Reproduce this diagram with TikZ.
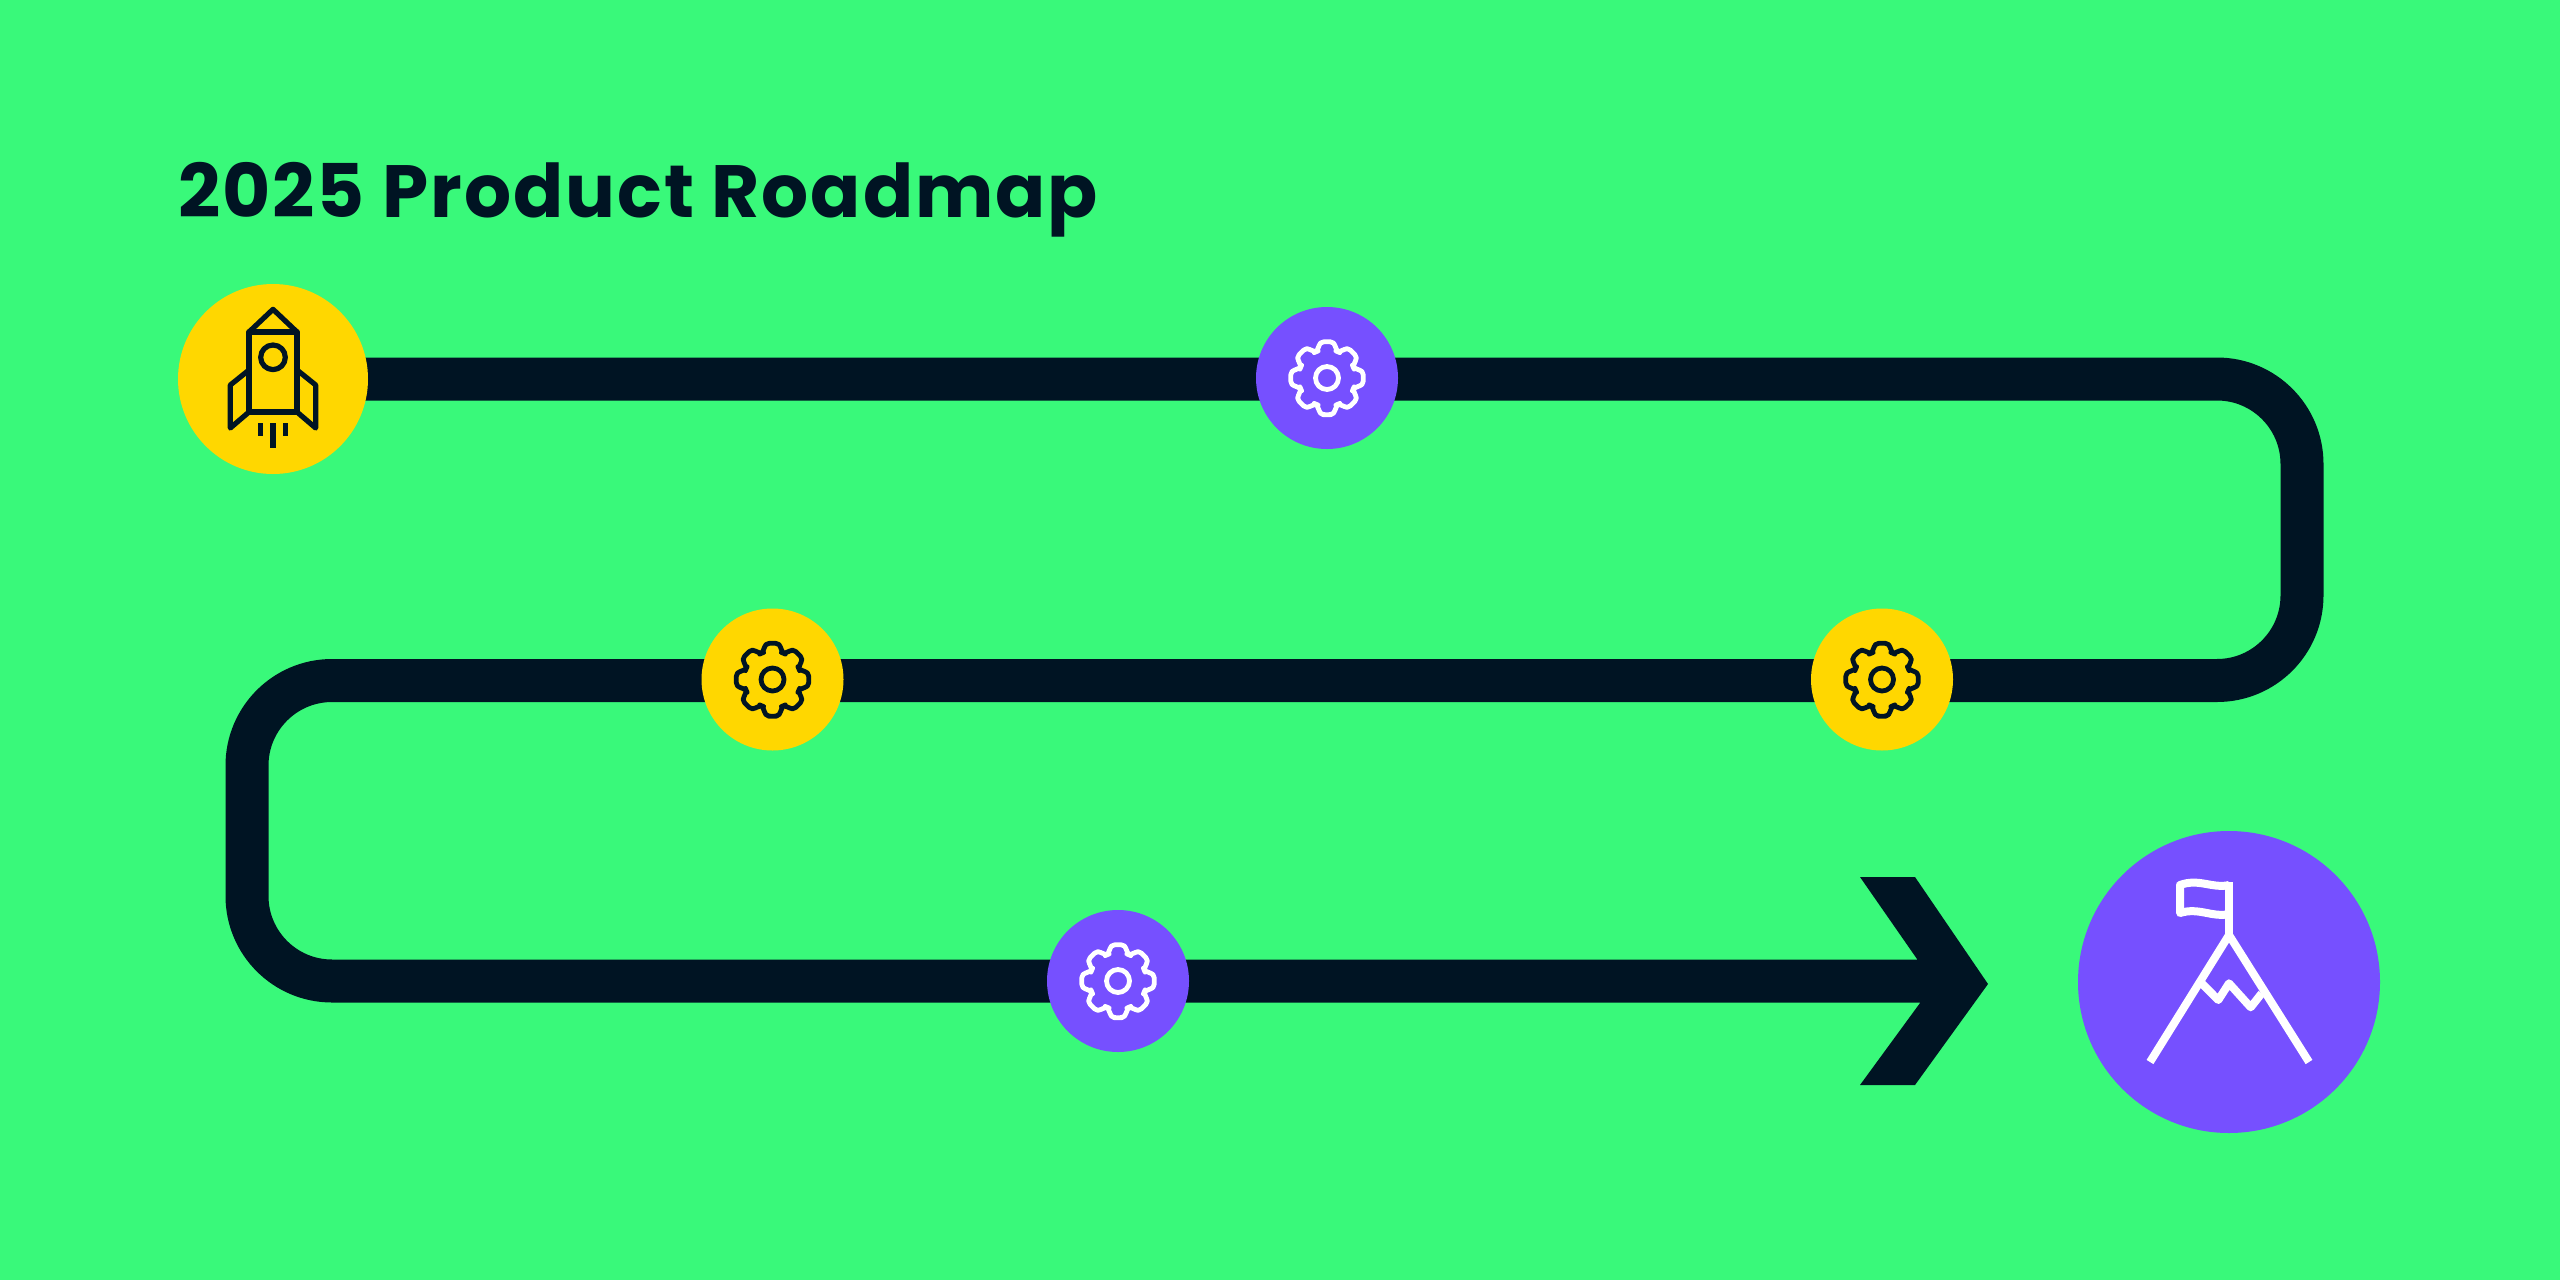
\documentclass[tikz,border=0pt]{standalone}
\usepackage{fontspec}
\setmainfont{Poppins}[LetterSpace=2.6]
\definecolor{bggreen}{HTML}{39F97A}
\definecolor{navy}{HTML}{001423}
\definecolor{sun}{HTML}{FFD700}
\definecolor{violet}{HTML}{7650FF}
\tikzset{
  road/.style={draw=navy,line width=21.5pt,rounded corners=42.5pt,line join=round},
  badge/.style={circle,inner sep=0pt,outer sep=0pt,minimum size=#1},
  gear/.pic={
    \tikzset{gearline/.style={draw=#1,line width=2.4pt,line join=round}}
    \draw[gearline,rounded corners=2.2pt] (90:37)
      \foreach \a in {90,135,...,405}{
        -- (\a+12:37) -- (\a+18:28.5) -- (\a+27:28.5) -- (\a+33:37)
      } -- cycle;
    \draw[gearline] (0,0) circle (11.5);
  },
  gear/.default=white
}
\begin{document}
\begin{tikzpicture}[x=0.5pt,y=-0.5pt]
\fill[bggreen] (0,0) rectangle (2560,1280);
\useasboundingbox (0,0) rectangle (2560,1280);

\node[anchor=base west,inner sep=0pt,text=navy,font=\fontsize{37}{37}\selectfont\bfseries] (title) at (178,217) {2025 Product Roadmap};

\coordinate (c1) at (2302,379);
\coordinate (c2) at (2302,680.5);
\coordinate (c3) at (247,680.5);
\coordinate (c4) at (247,981);
\coordinate (shaftend) at (1930,981);
\coordinate (start) at (273,379);
\draw[road] (start) -- (c1) -- (c2) -- (c3) -- (c4) -- (shaftend);

\fill[navy] (1860,877) -- (1915,877) -- (1988,984) -- (1915,1085) -- (1860,1085) -- (1920,1003) -- (1917,959) -- cycle;

\node[badge=95pt,fill=sun] (rocket) at (273,379) {};
\node[badge=71pt,fill=violet] (m1) at (1327,378) {};
\node[badge=71pt,fill=sun] (m2) at (772.5,679.5) {};
\node[badge=71pt,fill=sun] (m3) at (1882,679.5) {};
\node[badge=71pt,fill=violet] (m4) at (1118,981) {};
\node[badge=151pt,fill=violet] (goal) at (2229,982) {};

\pic at (m1) {gear=white};
\pic at (m2) {gear=navy};
\pic at (m3) {gear=navy};
\pic at (m4) {gear=white};

\begin{scope}[shift={(rocket)},draw=navy,line width=2.6pt,line join=round]
  \draw (-24,-47) -- (0,-69.7) -- (24,-47);
  \draw (-24,-47) rectangle (24,33);
  \draw (0,-21.7) circle (12.3);
  \draw (-24,-9) -- (-42.7,6) -- (-42.7,49) -- (-24,33);
  \draw (24,-9) -- (42.7,6) -- (42.7,49) -- (24,33);
  \draw (-12.3,44.3) -- (-12.3,57);
  \draw (0,44.3) -- (0,69.3);
  \draw (12.3,44.3) -- (12.3,57);
\end{scope}

\begin{scope}[shift={(goal)},draw=white,line width=4pt,line join=round]
  \draw (0,-100) -- (0,-47);
  \draw (-79,80) -- (0,-47) -- (80,80);
  \draw (0,-97) .. controls (-16,-93) and (-30,-104) .. (-49,-97) -- (-49,-69)
        .. controls (-30,-75) and (-16,-64) .. (0,-68);
  \draw (-27.3,1.3) -- (-10.7,18) -- (0,1.3) -- (21.7,25.3) -- (32.7,11.3);
\end{scope}
\end{tikzpicture}
\end{document}
